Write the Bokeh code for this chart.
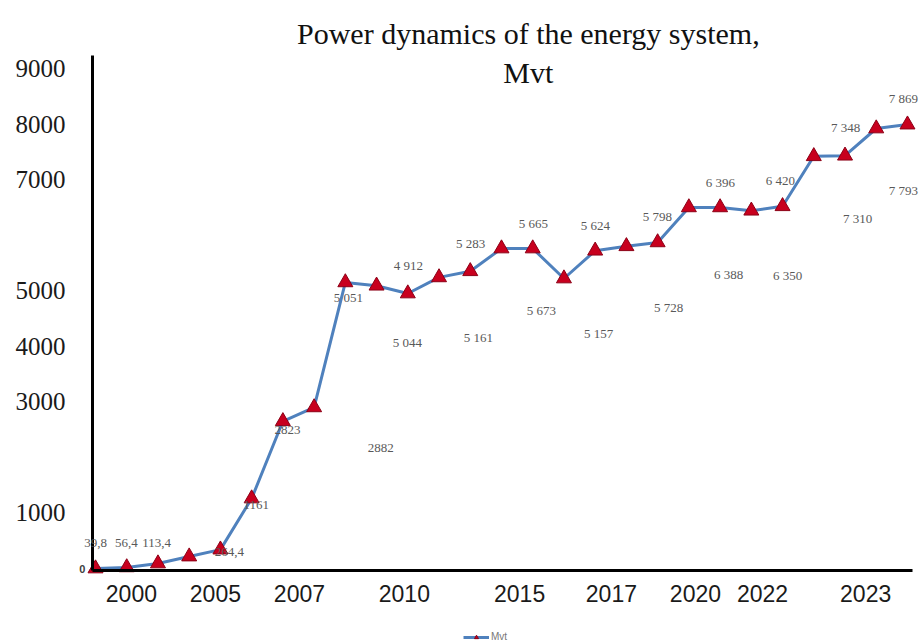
from bokeh.plotting import figure
from bokeh.models import (Range1d, FixedTicker, ColumnDataSource, LabelSet, Label,
                          Legend, LegendItem)
from bokeh.embed import file_html
from bokeh.resources import INLINE

# ---- data -------------------------------------------------------------
point_index = list(range(27))
power_mvt = [0, 20, 90, 215, 340, 1260, 2650, 2900, 5150, 5090, 4950, 5240, 5350,
             5760, 5760, 5220, 5720, 5800, 5870, 6500, 6500, 6440, 6520, 7420,
             7430, 7920, 7990]

x_tick_pos = [1.15, 3.84, 6.53, 9.89, 13.58, 16.52, 19.21, 21.36, 24.66]
x_tick_labels = ["2000", "2005", "2007", "2010", "2015", "2017", "2020", "2022", "2023"]
y_ticks = [1000, 3000, 4000, 5000, 7000, 8000, 9000]

label_text = ["39,8", "56,4", "113,4", "264,4", "1161", "2823", "2882",
              "5 051", "4 912", "5 044", "5 283", "5 161", "5 665", "5 673",
              "5 624", "5 157", "5 798", "5 728", "6 396", "6 388", "6 420",
              "6 350", "7 348", "7 310", "7 869", "7 793"]
label_x = [0.0, 0.99, 1.96, 4.29, 5.15, 6.15, 9.13,
           8.10, 10.02, 9.99, 12.01, 12.26, 14.02, 14.28,
           16.01, 16.11, 17.99, 18.35, 20.01, 20.27, 21.93,
           22.16, 24.02, 24.40, 25.87, 25.87]
label_y = [468, 468, 468, 306, 1152, 2502, 2178,
           4878, 5454, 4068, 5850, 4158, 6210, 4644,
           6174, 4230, 6336, 4698, 6948, 5292, 6984,
           5274, 7938, 6300, 8460, 6804]

title_lines = ["Power dynamics of the energy system,", "Mvt"]
series_name = "Mvt"

# axis extents (data units)
x_lo, x_hi = -0.096, 26.16
y_lo, y_hi = -36, 9234

# ---- figure -----------------------------------------------------------
p = figure(width=923, height=643, output_backend="svg", toolbar_location=None,
           x_range=Range1d(-3.042, 26.513), y_range=Range1d(-1350, 10224),
           min_border=0, min_border_left=0, min_border_right=0, min_border_top=0,
           min_border_bottom=0)
p.grid.visible = False
p.outline_line_color = None
p.background_fill_color = "white"
p.border_fill_color = "white"

for ax in (p.xaxis, p.yaxis):
    ax.axis_line_width = 3
    ax.axis_line_color = "black"
    ax.major_tick_line_color = None
    ax.minor_tick_line_color = None
    ax.major_tick_out = 0
    ax.major_tick_in = 0

p.xaxis.fixed_location = y_lo
p.xaxis.bounds = (x_lo, x_hi)
p.xaxis.ticker = FixedTicker(ticks=x_tick_pos)
p.xaxis.major_label_overrides = {t: l for t, l in zip(x_tick_pos, x_tick_labels)}
p.xaxis.major_label_text_font = "Liberation Sans"
p.xaxis.major_label_text_font_size = "23px"
p.xaxis.major_label_text_color = "#1a1a1a"
p.xaxis.major_label_standoff = 14

p.yaxis.fixed_location = x_lo
p.yaxis.bounds = (y_lo, y_hi)
p.yaxis.ticker = FixedTicker(ticks=y_ticks)
p.yaxis.major_label_text_font = "Liberation Serif"
p.yaxis.major_label_text_font_size = "25px"
p.yaxis.major_label_text_color = "#1a1a1a"
p.yaxis.major_label_standoff = 27

line_r = p.line(point_index, power_mvt, line_color="#4f81bd", line_width=3)
pts_r = p.scatter(point_index, power_mvt, marker="triangle", size=15,
                  fill_color="#c8001e", line_color="#8c0016", line_width=1)

src = ColumnDataSource(dict(x=label_x, y=label_y, t=label_text))
p.add_layout(LabelSet(x="x", y="y", text="t", source=src, text_align="center",
                      text_baseline="middle", text_font_size="13px",
                      text_color="#595959", text_font="Liberation Sans"))

p.add_layout(Label(x=-0.42, y=0, text="0", text_align="center", text_baseline="middle",
                   text_font_size="11px", text_font_style="bold", text_color="#404040",
                   text_font="Liberation Sans"))

p.add_layout(Label(x=13.86, y=9630, text=title_lines[0], text_align="center",
                   text_baseline="alphabetic", text_font="Liberation Serif",
                   text_font_size="30px", text_color="#111111"))
p.add_layout(Label(x=13.86, y=8928, text=title_lines[1], text_align="center",
                   text_baseline="alphabetic", text_font="Liberation Serif",
                   text_font_size="30px", text_color="#111111"))

# legend proxies (small glyphs, nothing drawn in the plot area)
nan = float("nan")
leg_line = p.line([nan, nan], [nan, nan], line_color="#4f81bd", line_width=3)
leg_pts = p.scatter([nan], [nan], marker="triangle", size=9, fill_color="#c8001e",
                    line_color="#8c0016")
legend = Legend(items=[LegendItem(label=series_name, renderers=[leg_line, leg_pts])],
                location=(463, 1), orientation="horizontal", border_line_color=None,
                background_fill_alpha=0, label_text_font_size="10px",
                label_text_color="#777777", label_text_font="Liberation Sans",
                glyph_width=26, glyph_height=10, padding=0, margin=0, label_standoff=2,
                label_height=10)
p.add_layout(legend)

open("out.html", "w").write(file_html(p, INLINE))
